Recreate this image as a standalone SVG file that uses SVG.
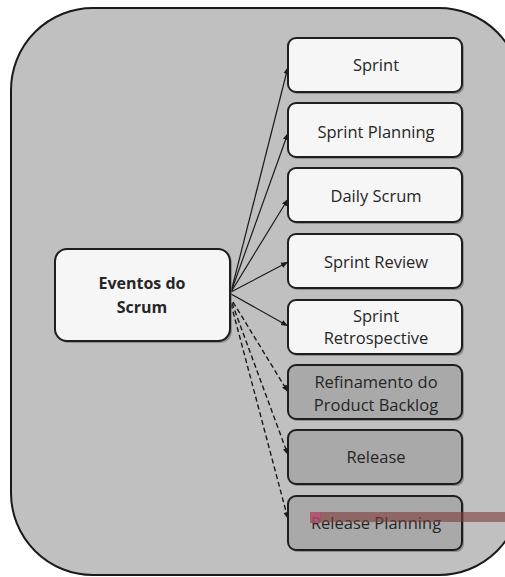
<svg xmlns="http://www.w3.org/2000/svg" width="505" height="577" viewBox="0 0 505 577">
<defs>
<marker id="ah" viewBox="0 0 10 10" refX="10" refY="5" markerWidth="7" markerHeight="7" orient="auto" markerUnits="userSpaceOnUse">
<path d="M0,1 L10,5 L0,9 z" fill="#1a1a1a"/>
</marker>
<style>
.bg{fill:#c0c0c0;stroke:#1a1a1a;stroke-width:2}
.sh{fill:#6e6e6e;opacity:0.6}
.lt{fill:#f6f6f6;stroke:#1e1e1e;stroke-width:2}
.dk{fill:#a9a9a9;stroke:#1e1e1e;stroke-width:2}
.t{font-family:"Open Sans","Liberation Sans",sans-serif;font-size:16.5px;font-weight:500;fill:#262626;text-anchor:middle}
.b{font-weight:bold;font-size:16px}
.sol{stroke:#1a1a1a;stroke-width:1.2;fill:none;marker-end:url(#ah)}
.das{stroke:#1a1a1a;stroke-width:1.4;fill:none;stroke-dasharray:5,3;marker-end:url(#ah)}
</style>
</defs>
<rect class="bg" x="11" y="8" width="510" height="567" rx="82" ry="82"/>
<g id="connectors">
<line class="sol" x1="231" y1="292" x2="288" y2="67"/>
<line class="sol" x1="231" y1="292" x2="288" y2="133"/>
<line class="sol" x1="231" y1="292" x2="288" y2="199"/>
<line class="sol" x1="231" y1="292" x2="288" y2="262"/>
<line class="sol" x1="231" y1="294" x2="288" y2="326"/>
<line class="das" x1="233" y1="302" x2="288" y2="392"/>
<line class="das" x1="232" y1="303" x2="288" y2="455"/>
<line class="das" x1="231" y1="304" x2="288" y2="519"/>
</g>
<g id="eventos">
<rect class="sh" x="57" y="251" width="175" height="92" rx="12"/>
<rect class="lt" x="55" y="249" width="175" height="92" rx="12"/>
<text class="t b" x="142" y="289">Eventos do</text>
<text class="t b" x="142" y="313">Scrum</text>
</g>
<g id="sprint">
<rect class="sh" x="290" y="40" width="174" height="54" rx="8"/>
<rect class="lt" x="288" y="38" width="174" height="54" rx="8"/>
<text class="t" x="376" y="71">Sprint</text>
</g>
<g id="sprint-planning">
<rect class="sh" x="290" y="105" width="174" height="54" rx="8"/>
<rect class="lt" x="288" y="103" width="174" height="54" rx="8"/>
<text class="t" x="376" y="138">Sprint Planning</text>
</g>
<g id="daily-scrum">
<rect class="sh" x="290" y="170" width="174" height="54" rx="8"/>
<rect class="lt" x="288" y="168" width="174" height="54" rx="8"/>
<text class="t" x="376" y="202">Daily Scrum</text>
</g>
<g id="sprint-review">
<rect class="sh" x="290" y="236" width="174" height="54" rx="8"/>
<rect class="lt" x="288" y="234" width="174" height="54" rx="8"/>
<text class="t" x="376" y="268">Sprint Review</text>
</g>
<g id="sprint-retrospective">
<rect class="sh" x="290" y="302" width="174" height="54" rx="8"/>
<rect class="lt" x="288" y="300" width="174" height="54" rx="8"/>
<text class="t" x="376" y="322">Sprint</text>
<text class="t" x="376" y="344">Retrospective</text>
</g>
<g id="refinamento">
<rect class="sh" x="290" y="367" width="174" height="54" rx="8"/>
<rect class="dk" x="288" y="365" width="174" height="54" rx="8"/>
<text class="t" x="376" y="388">Refinamento do</text>
<text class="t" x="376" y="411">Product Backlog</text>
</g>
<g id="release">
<rect class="sh" x="290" y="432" width="174" height="54" rx="8"/>
<rect class="dk" x="288" y="430" width="174" height="54" rx="8"/>
<text class="t" x="376" y="463">Release</text>
</g>
<g id="release-planning">
<rect class="sh" x="290" y="498" width="174" height="54" rx="8"/>
<rect class="dk" x="288" y="496" width="174" height="54" rx="8"/>
<text class="t" x="376" y="529">Release Planning</text>
</g>
<rect x="320" y="512" width="190" height="10" fill="#7e3a3a" opacity="0.6"/>
<rect x="310" y="512" width="11" height="11" fill="#b04a6a" opacity="0.85"/>
</svg>
